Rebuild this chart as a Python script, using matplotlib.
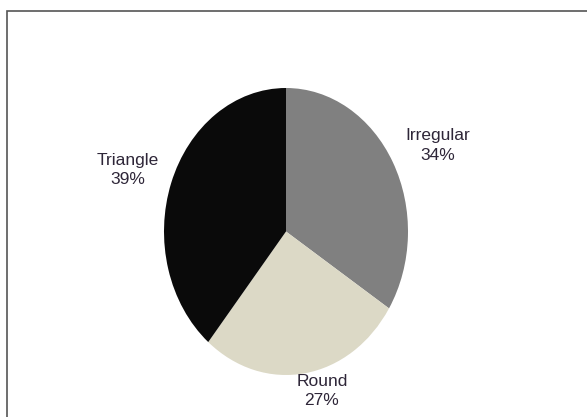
import matplotlib
matplotlib.use("Agg")
import matplotlib.pyplot as plt
from matplotlib.patches import Rectangle

categories = ["Irregular", "Round", "Triangle"]
values = [34, 27, 39]
colors = ["#808080", "#dcd9c6", "#0a0a0a"]
label_pos = [(1.24, 0.60), (0.295, -1.11), (-1.295, 0.43)]

fig = plt.figure(figsize=(5.87, 4.17), dpi=100)
fig.patch.set_facecolor("white")

# frame around chart area
fig.patches.append(Rectangle((7/587, -0.05), 1.2, 1 - 11/417 + 0.05, transform=fig.transFigure,
                             fill=False, edgecolor="#555555", linewidth=1.2))

ax = fig.add_axes([164/587, 42/417, 244/587, 287/417])
ax.pie(values, colors=colors, startangle=90, counterclock=False,
       wedgeprops=dict(linewidth=0))
ax.set_aspect("auto")
ax.set_xlim(-1, 1)
ax.set_ylim(-1, 1)
ax.axis("off")

for cat, v, (x, y) in zip(categories, values, label_pos):
    ax.text(x, y, f"{cat}\n{v}%", ha="center", va="center", fontsize=12.5,
            family="Liberation Sans", color="#2e2638", linespacing=1.35,
            clip_on=False)

fig.savefig("out.png", dpi=100)
